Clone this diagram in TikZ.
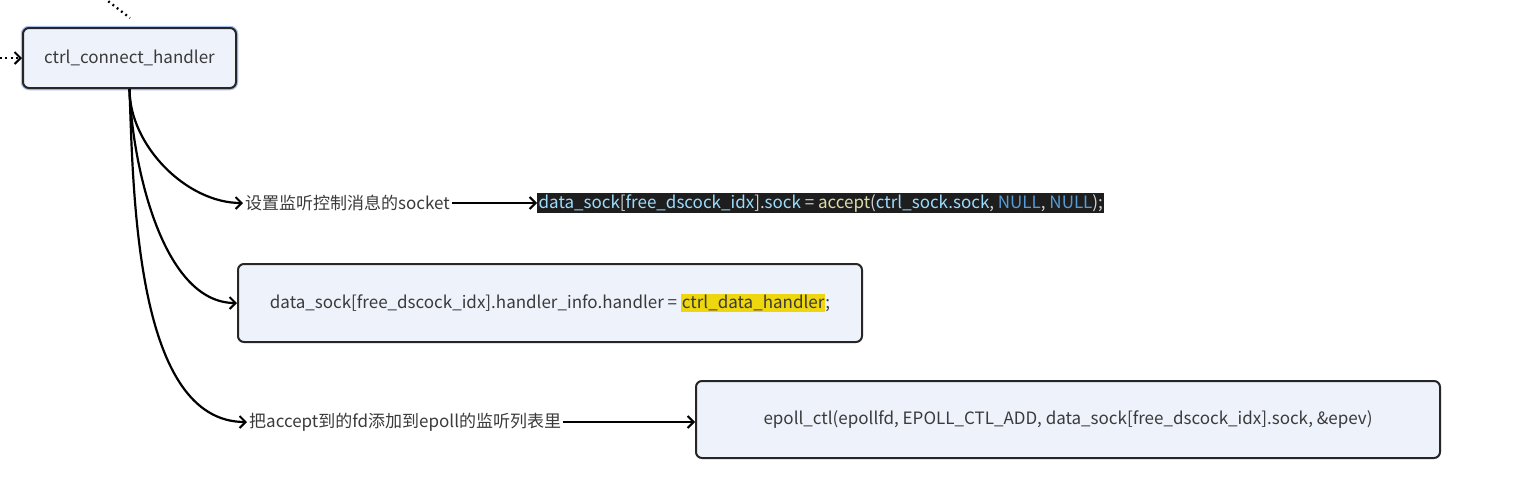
\documentclass[tikz,border=0pt]{standalone}
\usepackage{fontspec}
\setmainfont{Noto Sans CJK SC}
\usetikzlibrary{positioning, arrows.meta}
\definecolor{boxfill}{HTML}{EEF2FB}
\definecolor{boxglow}{HTML}{A9C2F0}
\definecolor{txtgray}{HTML}{3A3A3A}
\definecolor{codebg}{HTML}{1E1E1E}
\definecolor{codevar}{HTML}{9CDCFE}
\definecolor{codefn}{HTML}{DCDCAA}
\definecolor{codekw}{HTML}{569CD6}
\definecolor{codetxt}{HTML}{D4D4D4}
\definecolor{hlyellow}{HTML}{EFD70F}

\begin{document}
\begin{tikzpicture}[
    x=1pt, y=-1pt,
    font=\fontsize{17}{20}\selectfont,
    text=txtgray,
    topic/.style={
        draw=black!85, fill=boxfill, line width=2pt,
        rectangle, rounded corners=6pt, align=center,
    },
    lbl/.style={inner sep=2pt, anchor=west},
    codeline/.style={fill=codebg, inner sep=1.5pt, anchor=west, text=codetxt},
    link/.style={line width=2.2pt, draw=black,
        -{Straight Barb[length=6pt, width=12pt, line width=2pt]}},
    dots/.style={line width=2.4pt, draw=black, dash pattern=on 1.8pt off 3.6pt},
]

\useasboundingbox (0,0) rectangle (1518,477);

% ===== root topic =====
\node[topic, preaction={draw=boxglow, line width=4.5pt},
      minimum width=213pt, minimum height=60pt] (handler) at (129.5,58) {ctrl\_connect\_handler};

% incoming dotted links from outside the view
\coordinate (fromtop)  at (104,-2);
\coordinate (totop)    at (130,18);
\coordinate (fromleft) at (0,58);
\draw[dots] (fromtop) -- (totop);
\draw[dots, -{Straight Barb[length=6pt, width=12pt, line width=2pt]}] (fromleft) -- (handler.west);

% ===== branch 1: accept =====
\node[lbl] (setsock) at (243,203) {设置监听控制消息的socket};
\node[codeline] (acceptcode) at (537,203) {%
    \textcolor{codevar}{data\_sock}[\textcolor{codevar}{free\_dscock\_idx}].\textcolor{codevar}{sock}
    = \textcolor{codefn}{accept}(\textcolor{codevar}{ctrl\_sock.sock}, \textcolor{codekw}{NULL}, \textcolor{codekw}{NULL});};

% ===== branch 2: handler =====
\node[topic, minimum width=624pt, minimum height=78pt] (sethandler) at (550,303) {%
    data\_sock[free\_dscock\_idx].handler\_info.handler = {\setlength{\fboxsep}{1pt}\colorbox{hlyellow}{ctrl\_data\_handler}};};

% ===== branch 3: epoll =====
\node[lbl] (addepoll) at (247,422) {把accept到的fd添加到epoll的监听列表里};
\node[topic, minimum width=744pt, minimum height=77pt] (epollctl) at (1068,419.5) {%
    epoll\_ctl(epollfd, EPOLL\_CTL\_ADD, data\_sock[free\_dscock\_idx].sock, \&epev)};

% ===== links =====
\draw[link] (handler.south) to[out=-90, in=180, looseness=0.9] (setsock.west);
\draw[link] (handler.south) to[out=-88, in=180, looseness=0.8] (sethandler.west);
\draw[link] (handler.south) to[out=-88, in=180, looseness=0.8] (addepoll.west);

\draw[link] (setsock.east) -- (acceptcode.west);
\draw[link] (addepoll.east) -- (addepoll.east -| epollctl.west);

\end{tikzpicture}
\end{document}
